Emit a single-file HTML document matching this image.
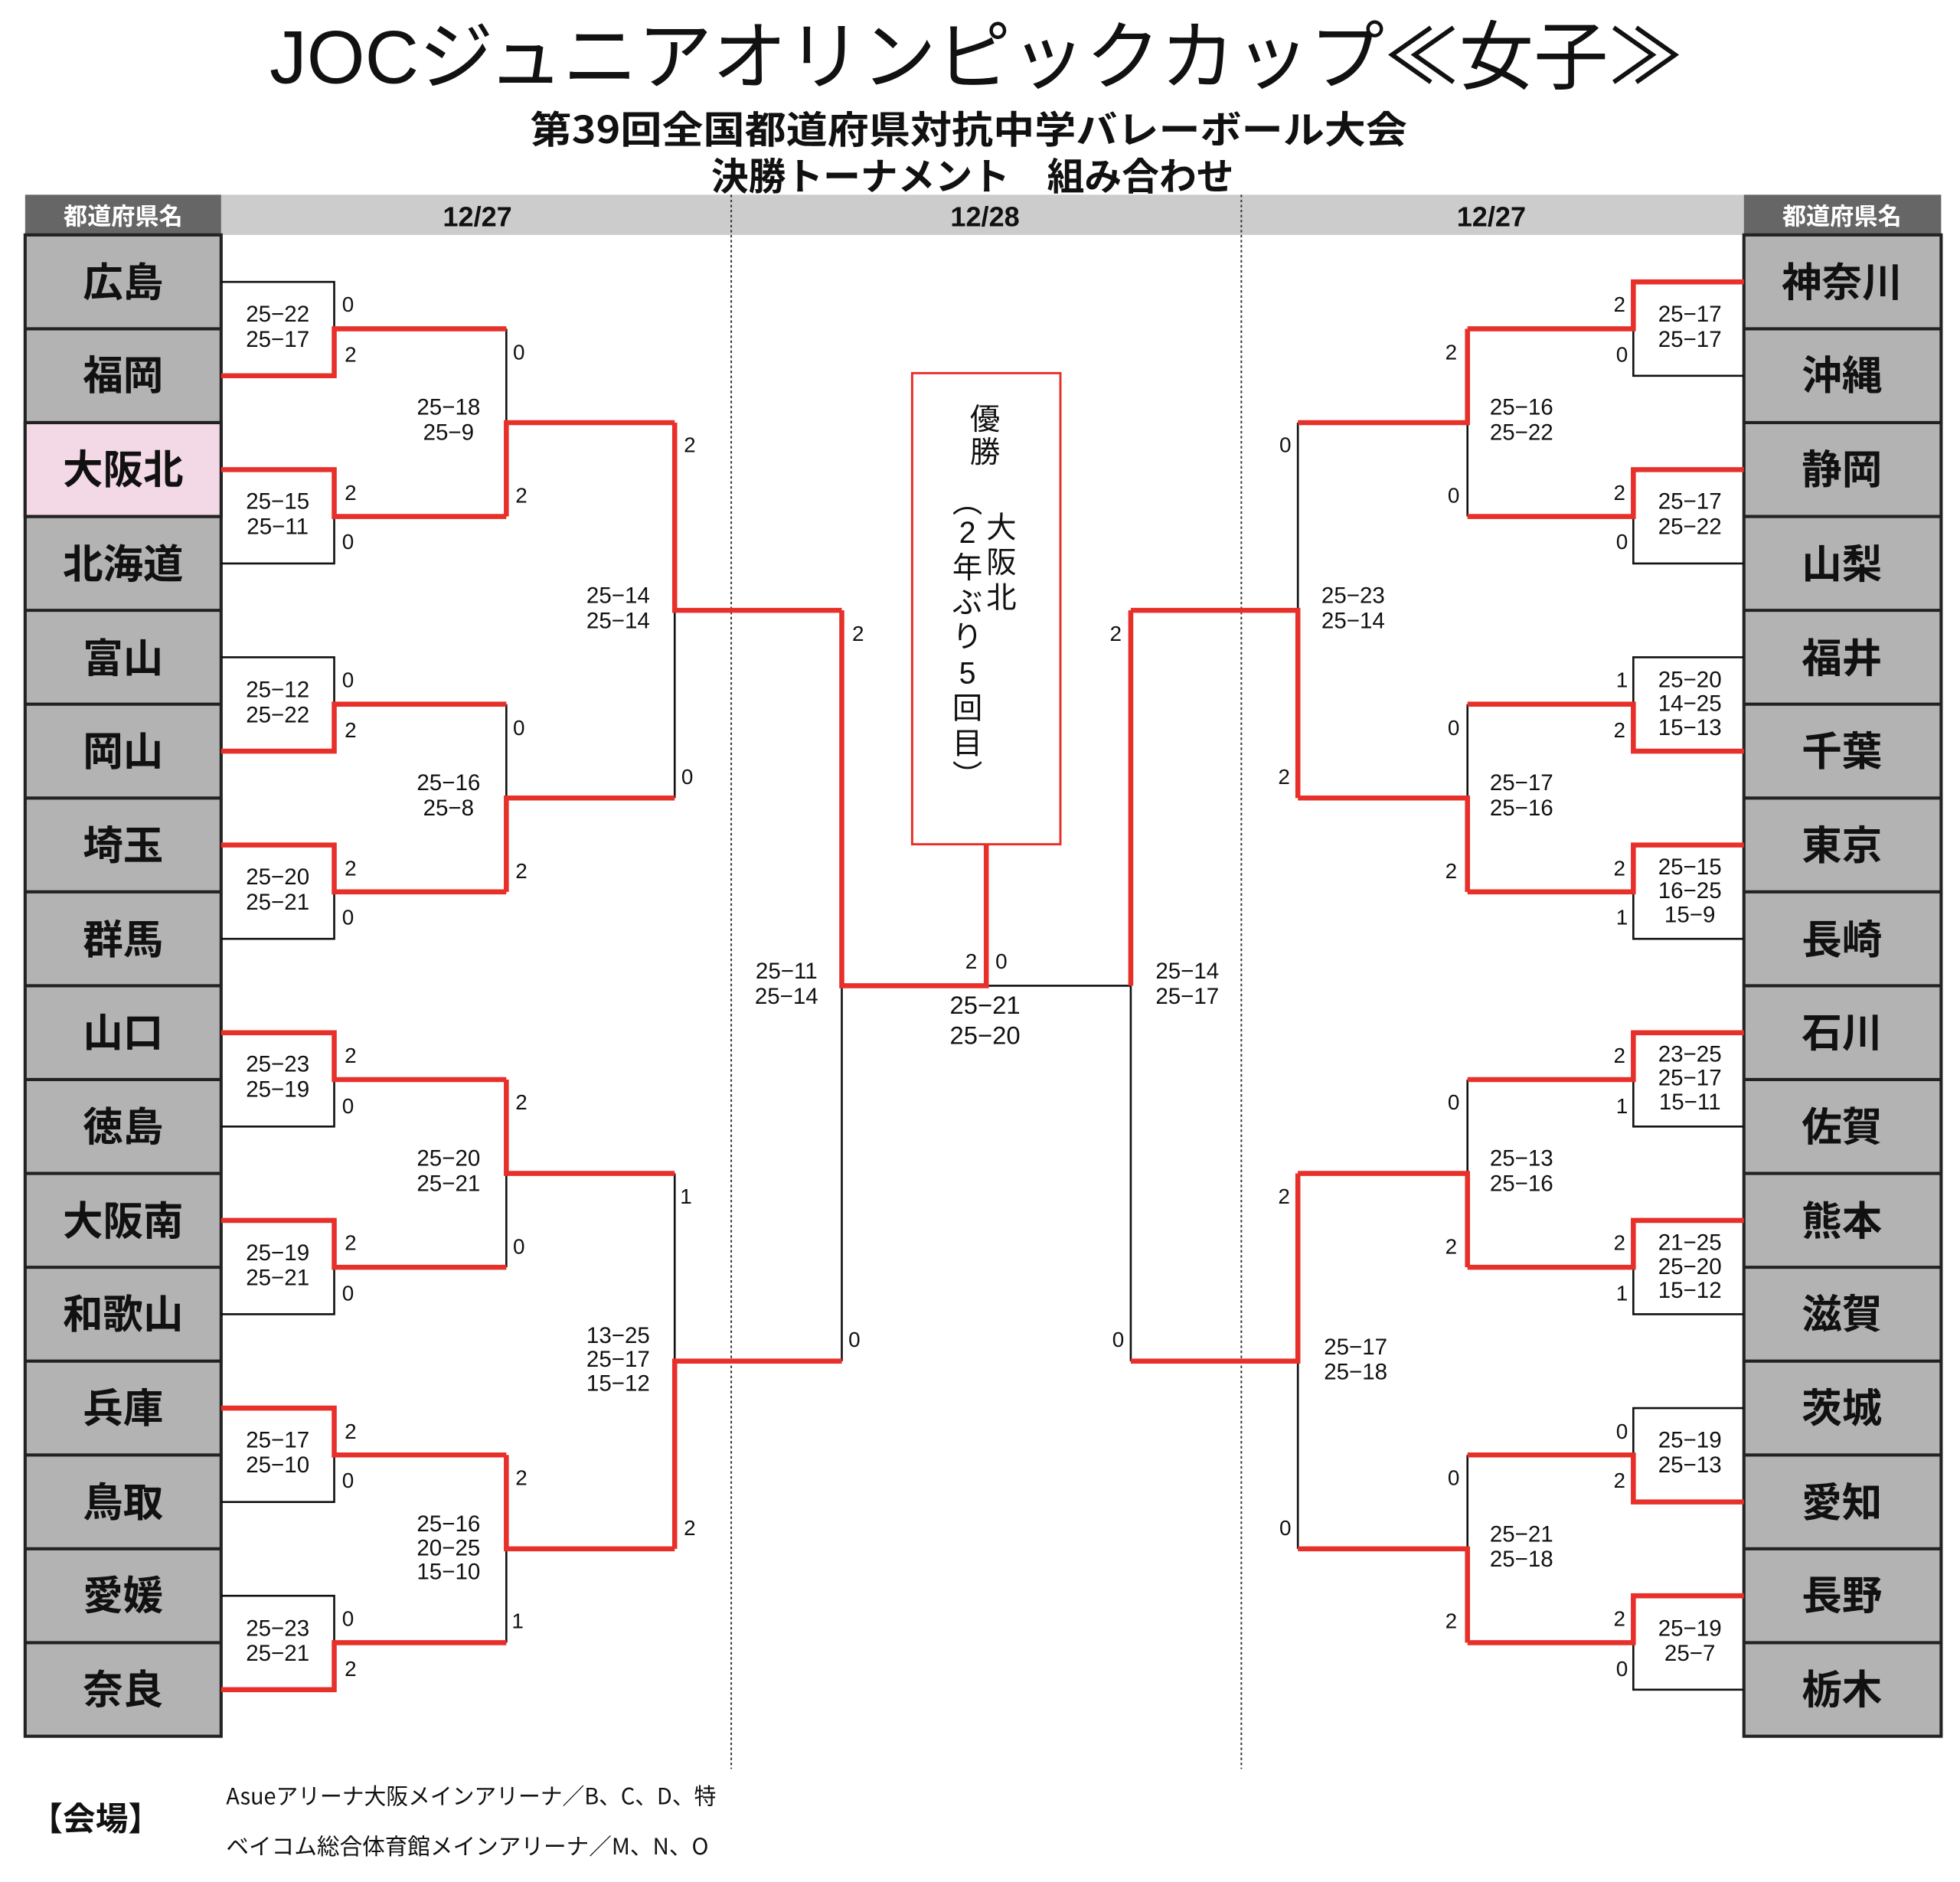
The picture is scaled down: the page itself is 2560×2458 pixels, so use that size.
<!DOCTYPE html>
<html><head><meta charset="utf-8"><style>
html,body{margin:0;padding:0;background:#fff}
svg{display:block}
text{font-family:"Liberation Sans","Noto Sans CJK JP",sans-serif;fill:#111}
.s{font-size:18px;text-anchor:middle}
.n{font-size:17px;text-anchor:middle}
.nm{font-size:32px;font-weight:bold;text-anchor:middle;font-family:"Noto Sans CJK JP",sans-serif}
.k{fill:none;stroke:#111;stroke-width:1.6}
.r{fill:none;stroke:#e8302a;stroke-width:4}
.v{font-size:24px;text-anchor:middle;font-family:"Noto Sans CJK JP",sans-serif}
</style></head><body>
<svg width="2560" height="2458" viewBox="0 0 1560 1498" preserveAspectRatio="none" xmlns="http://www.w3.org/2000/svg">
<rect width="1560" height="1498" fill="#fff"/>
<text x="777" y="66" style="font-size:60px;text-anchor:middle" textLength="1125" lengthAdjust="spacingAndGlyphs">JOCジュニアオリンピックカップ≪女子≫</text>
<text x="771" y="114" style="font-size:30px;font-weight:bold;text-anchor:middle;font-family:'Noto Sans CJK JP',sans-serif" textLength="698" lengthAdjust="spacingAndGlyphs">第39回全国都道府県対抗中学バレーボール大会</text>
<text x="774" y="151" style="font-size:30px;font-weight:bold;text-anchor:middle;font-family:'Noto Sans CJK JP',sans-serif" textLength="416" lengthAdjust="spacingAndGlyphs">決勝トーナメント　組み合わせ</text>
<rect x="176" y="155" width="1212" height="32" fill="#cccccc"/>
<rect x="20" y="155" width="156" height="32" fill="#666"/>
<rect x="1388" y="155" width="157" height="32" fill="#666"/>
<text x="98" y="179" style="font-size:19px;font-weight:bold;fill:#fff;text-anchor:middle;font-family:'Noto Sans CJK JP',sans-serif">都道府県名</text>
<text x="1466" y="179" style="font-size:19px;font-weight:bold;fill:#fff;text-anchor:middle;font-family:'Noto Sans CJK JP',sans-serif">都道府県名</text>
<text x="380" y="180" style="font-size:22px;font-weight:bold;text-anchor:middle">12/27</text>
<text x="784" y="180" style="font-size:22px;font-weight:bold;text-anchor:middle">12/28</text>
<text x="1187" y="180" style="font-size:22px;font-weight:bold;text-anchor:middle">12/27</text>
<line x1="582" y1="155" x2="582" y2="1408" stroke="#333" stroke-width="1.2" stroke-dasharray="2 2"/>
<line x1="988" y1="155" x2="988" y2="1408" stroke="#333" stroke-width="1.2" stroke-dasharray="2 2"/>
<g stroke="#222" stroke-width="2.5">
<rect x="20" y="187" width="156" height="1195" fill="#b3b3b3"/>
<rect x="1388" y="187" width="157" height="1195" fill="#b3b3b3"/>
<rect x="20" y="336.4" width="156" height="74.7" fill="#f3d8e6"/>
<path d="M20 261.7H176M20 336.4H176M20 411.1H176M20 485.8H176M20 560.5H176M20 635.2H176M20 709.9H176M20 784.6H176M20 859.3H176M20 934H176M20 1008.7H176M20 1083.4H176M20 1158.1H176M20 1232.8H176M20 1307.5H176"/>
<path d="M1388 261.7H1545M1388 336.4H1545M1388 411.1H1545M1388 485.8H1545M1388 560.5H1545M1388 635.2H1545M1388 709.9H1545M1388 784.6H1545M1388 859.3H1545M1388 934H1545M1388 1008.7H1545M1388 1083.4H1545M1388 1158.1H1545M1388 1232.8H1545M1388 1307.5H1545"/>
</g>
<g class="nm">
<text x="98" y="236">広島</text><text x="98" y="310">福岡</text><text x="98" y="385">大阪北</text><text x="98" y="460">北海道</text>
<text x="98" y="535">富山</text><text x="98" y="609">岡山</text><text x="98" y="684">埼玉</text><text x="98" y="759">群馬</text>
<text x="98" y="833">山口</text><text x="98" y="908">徳島</text><text x="98" y="983">大阪南</text><text x="98" y="1057">和歌山</text>
<text x="98" y="1132">兵庫</text><text x="98" y="1207">鳥取</text><text x="98" y="1281">愛媛</text><text x="98" y="1356">奈良</text>
<text x="1466" y="236">神奈川</text><text x="1466" y="310">沖縄</text><text x="1466" y="385">静岡</text><text x="1466" y="460">山梨</text>
<text x="1466" y="535">福井</text><text x="1466" y="609">千葉</text><text x="1466" y="684">東京</text><text x="1466" y="759">長崎</text>
<text x="1466" y="833">石川</text><text x="1466" y="908">佐賀</text><text x="1466" y="983">熊本</text><text x="1466" y="1057">滋賀</text>
<text x="1466" y="1132">茨城</text><text x="1466" y="1207">愛知</text><text x="1466" y="1281">長野</text><text x="1466" y="1356">栃木</text>
</g>
<path class="k" d="M176 224.4H266V261.7 M176 448.5H266V411.1 M176 523.2H266V560.5 M176 747.3H266V709.9 M176 896.7H266V859.3 M176 1046.1H266V1008.7 M176 1195.5H266V1158.1 M176 1270.2H266V1307.5
M403 261.7V336.4 M403 560.5V635.2 M403 1008.7V934 M403 1307.5V1232.8
M537 635.2V485.8 M537 934V1083.4 M670 1083.4V784.6 M900 784.6H785
M1388 299.1H1300V261.7 M1388 448.5H1300V411.1 M1388 523.2H1300V560.5 M1388 747.3H1300V709.9 M1388 896.7H1300V859.3 M1388 1046.1H1300V1008.7 M1388 1120.8H1300V1158.1 M1388 1344.9H1300V1307.5
M1168 411.1V336.4 M1168 560.5V635.2 M1168 859.3V934 M1168 1158.1V1232.8
M1033 336.4V485.8 M1033 1232.8V1083.4 M900 1083.4V784.6"/>
<path class="r" d="M176 299.1H266V261.7H403 M176 373.8H266V411.1H403 M176 597.9H266V560.5H403 M176 672.6H266V709.9H403 M176 822H266V859.3H403 M176 971.4H266V1008.7H403 M176 1120.8H266V1158.1H403 M176 1344.9H266V1307.5H403
M403 411.1V336.4H537 M403 709.9V635.2H537 M403 859.3V934H537 M403 1158.1V1232.8H537
M537 336.4V485.8H670 M537 1232.8V1083.4H670
M670 485.8V784.6H785V672
M1388 224.4H1300V261.7H1168 M1388 373.8H1300V411.1H1168 M1388 597.9H1300V560.5H1168 M1388 672.6H1300V709.9H1168 M1388 822H1300V859.3H1168 M1388 971.4H1300V1008.7H1168 M1388 1195.5H1300V1158.1H1168 M1388 1270.2H1300V1307.5H1168
M1168 261.7V336.4H1033 M1168 709.9V635.2H1033 M1168 1008.7V934H1033 M1168 1307.5V1232.8H1033
M1033 635.2V485.8H900 M1033 934V1083.4H900
M900 485.8V784.6"/>
<rect x="726" y="297" width="118" height="375" fill="#fff" stroke="#e8302a" stroke-width="1.8"/>
<g class="v">
<text x="784" y="342">優</text><text x="784" y="368">勝</text>
<text x="797" y="428">大</text><text x="797" y="456">阪</text><text x="797" y="484">北</text>
<text x="770" y="408">︵</text><text x="770" y="432">2</text><text x="770" y="460">年</text><text x="770" y="488">ぶ</text><text x="770" y="515">り</text><text x="770" y="544">5</text><text x="770" y="572">回</text><text x="770" y="600">目</text><text x="770" y="626">︶</text>
</g>
<g class="n">
<text x="277" y="248">0</text><text x="279" y="288">2</text><text x="279" y="398">2</text><text x="277" y="437">0</text>
<text x="277" y="547">0</text><text x="279" y="587">2</text><text x="279" y="697">2</text><text x="277" y="736">0</text>
<text x="279" y="846">2</text><text x="277" y="886">0</text><text x="279" y="995">2</text><text x="277" y="1035">0</text>
<text x="279" y="1145">2</text><text x="277" y="1184">0</text><text x="277" y="1294">0</text><text x="279" y="1334">2</text>
<text x="413" y="286">0</text><text x="415" y="400">2</text><text x="413" y="585">0</text><text x="415" y="699">2</text>
<text x="415" y="883">2</text><text x="413" y="998">0</text><text x="415" y="1182">2</text><text x="412" y="1296">1</text>
<text x="549" y="360">2</text><text x="547" y="624">0</text><text x="546" y="958">1</text><text x="549" y="1222">2</text>
<text x="683" y="510">2</text><text x="680" y="1072">0</text>
<text x="773" y="771">2</text><text x="797" y="771">0</text>
<text x="1289" y="248">2</text><text x="1291" y="288">0</text><text x="1289" y="398">2</text><text x="1291" y="437">0</text>
<text x="1291" y="547">1</text><text x="1289" y="587">2</text><text x="1289" y="697">2</text><text x="1291" y="736">1</text>
<text x="1289" y="846">2</text><text x="1291" y="886">1</text><text x="1289" y="995">2</text><text x="1291" y="1035">1</text>
<text x="1291" y="1145">0</text><text x="1289" y="1184">2</text><text x="1289" y="1294">2</text><text x="1291" y="1334">0</text>
<text x="1155" y="286">2</text><text x="1157" y="400">0</text><text x="1157" y="585">0</text><text x="1155" y="699">2</text>
<text x="1157" y="883">0</text><text x="1155" y="998">2</text><text x="1157" y="1182">0</text><text x="1155" y="1296">2</text>
<text x="1023" y="360">0</text><text x="1022" y="624">2</text><text x="1022" y="958">2</text><text x="1023" y="1222">0</text>
<text x="888" y="510">2</text><text x="890" y="1072">0</text>
</g>
<g class="s">
<text x="221" y="256">25−22</text><text x="221" y="276">25−17</text>
<text x="221" y="405">25−15</text><text x="221" y="425">25−11</text>
<text x="221" y="555">25−12</text><text x="221" y="575">25−22</text>
<text x="221" y="704">25−20</text><text x="221" y="724">25−21</text>
<text x="221" y="853">25−23</text><text x="221" y="873">25−19</text>
<text x="221" y="1003">25−19</text><text x="221" y="1023">25−21</text>
<text x="221" y="1152">25−17</text><text x="221" y="1172">25−10</text>
<text x="221" y="1302">25−23</text><text x="221" y="1322">25−21</text>
<text x="357" y="330">25−18</text><text x="357" y="350">25−9</text>
<text x="357" y="629">25−16</text><text x="357" y="649">25−8</text>
<text x="357" y="928">25−20</text><text x="357" y="948">25−21</text>
<text x="357" y="1219">25−16</text><text x="357" y="1238">20−25</text><text x="357" y="1257">15−10</text>
<text x="492" y="480">25−14</text><text x="492" y="500">25−14</text>
<text x="492" y="1069">13−25</text><text x="492" y="1088">25−17</text><text x="492" y="1107">15−12</text>
<text x="626" y="779">25−11</text><text x="626" y="799">25−14</text>
<text x="784" y="807" style="font-size:20px">25−21</text><text x="784" y="831" style="font-size:20px">25−20</text>
<text x="1345" y="256">25−17</text><text x="1345" y="276">25−17</text>
<text x="1345" y="405">25−17</text><text x="1345" y="425">25−22</text>
<text x="1345" y="547">25−20</text><text x="1345" y="566">14−25</text><text x="1345" y="585">15−13</text>
<text x="1345" y="696">25−15</text><text x="1345" y="715">16−25</text><text x="1345" y="734">15−9</text>
<text x="1345" y="845">23−25</text><text x="1345" y="864">25−17</text><text x="1345" y="883">15−11</text>
<text x="1345" y="995">21−25</text><text x="1345" y="1014">25−20</text><text x="1345" y="1033">15−12</text>
<text x="1345" y="1152">25−19</text><text x="1345" y="1172">25−13</text>
<text x="1345" y="1302">25−19</text><text x="1345" y="1322">25−7</text>
<text x="1211" y="330">25−16</text><text x="1211" y="350">25−22</text>
<text x="1211" y="629">25−17</text><text x="1211" y="649">25−16</text>
<text x="1211" y="928">25−13</text><text x="1211" y="948">25−16</text>
<text x="1211" y="1227">25−21</text><text x="1211" y="1247">25−18</text>
<text x="1077" y="480">25−23</text><text x="1077" y="500">25−14</text>
<text x="1079" y="1078">25−17</text><text x="1079" y="1098">25−18</text>
<text x="945" y="779">25−14</text><text x="945" y="799">25−17</text>
</g>
<text x="24" y="1457" style="font-size:26px;font-weight:bold;font-family:'Noto Sans CJK JP',sans-serif">【会場】</text>
<text x="180" y="1436" style="font-size:18px;font-family:'Noto Sans CJK JP',sans-serif" textLength="390" lengthAdjust="spacingAndGlyphs">Asueアリーナ大阪メインアリーナ／B、C、D、特</text>
<text x="180" y="1476" style="font-size:18px;font-family:'Noto Sans CJK JP',sans-serif" textLength="384" lengthAdjust="spacingAndGlyphs">ベイコム総合体育館メインアリーナ／M、N、O</text>
</svg>
</body></html>
